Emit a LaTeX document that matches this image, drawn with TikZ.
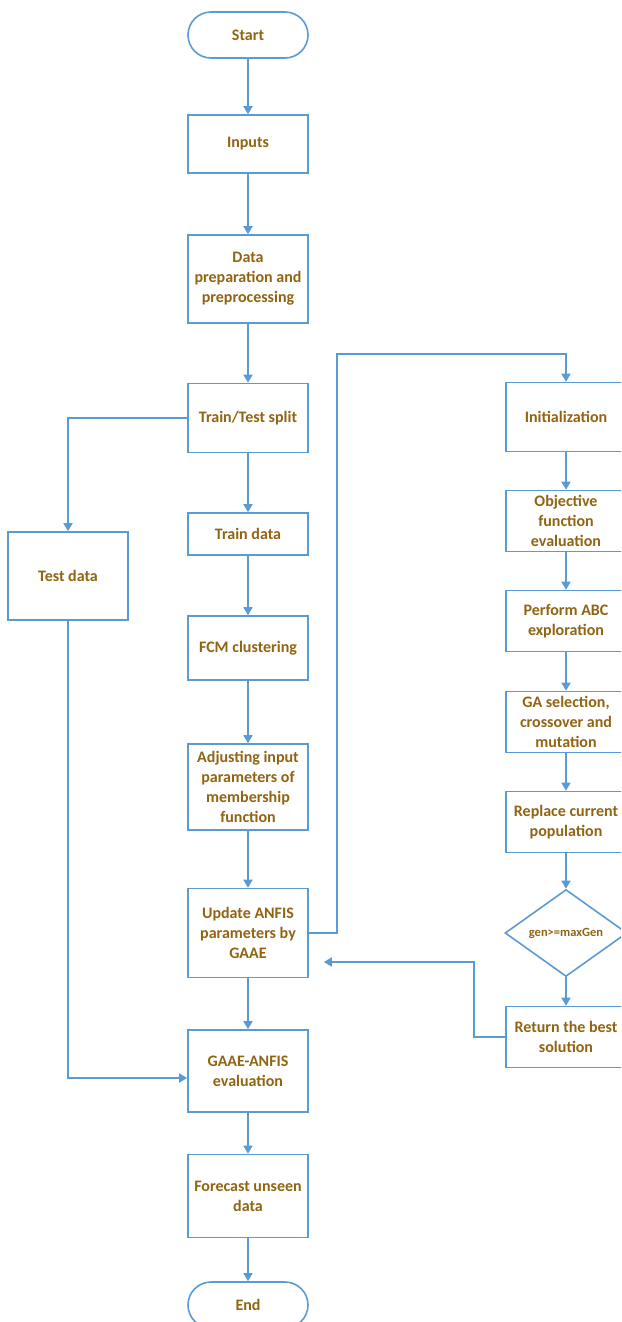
\documentclass[tikz,border=0pt]{standalone}
\usepackage{fontspec}
\setmainfont{Carlito}
\usetikzlibrary{shapes.geometric, arrows.meta}
\definecolor{flowblue}{RGB}{91, 155, 213}
\definecolor{labelgold}{RGB}{145, 100, 18}

\begin{document}
\begin{tikzpicture}[x=1pt, y=-1pt,
  box/.style={draw=flowblue, line width=1.6pt, fill=white, minimum width=120pt, align=center,
    inner sep=2pt, text=labelgold, font=\fontsize{16}{20}\selectfont\bfseries},
  term/.style={box, rounded corners=23pt, minimum height=46pt},
  decision/.style={draw=flowblue, line width=1.6pt, fill=white, diamond, inner sep=0pt, aspect=1.4,
    minimum width=122pt, minimum height=87pt, text=labelgold, font=\fontsize{12.5}{15}\selectfont\bfseries},
  flow/.style={draw=flowblue, line width=1.6pt, -{Triangle[length=8pt, width=9pt]}},
  link/.style={draw=flowblue, line width=1.6pt}]
  \clip (0, 0) rectangle (621, 1322);

  % ===== MAIN COLUMN =====
  \node[term] (start) at (248, 35) {Start};
  \node[box, minimum height=58pt] (inputs) at (248, 144) {Inputs};
  \node[box, minimum height=88pt] (prep) at (248, 279) {Data\\preparation and\\preprocessing};
  \node[box, minimum height=69pt] (split) at (248, 418) {Train/Test split};
  \node[box, minimum height=42pt] (train) at (248, 534) {Train data};
  \node[box, minimum height=64pt] (fcm) at (248, 648) {FCM clustering};
  \node[box, minimum height=86pt] (adjust) at (248, 787) {Adjusting input\\parameters of\\membership\\function};
  \node[box, minimum height=89pt] (update) at (248, 933) {Update ANFIS\\parameters by\\GAAE};
  \node[box, minimum height=82pt] (eval) at (248, 1071) {GAAE-ANFIS\\evaluation};
  \node[box, minimum height=83pt] (forecast) at (248, 1196) {Forecast unseen\\data};
  \node[term] (end) at (248, 1305) {End};

  % ===== TEST BRANCH =====
  \node[box, minimum height=88pt] (test) at (68, 576) {Test data};

  % ===== GAAE LOOP (right) =====
  \node[box, minimum height=69pt] (init) at (566, 417) {Initialization};
  \node[box, minimum height=61pt] (objective) at (566, 521) {Objective\\function\\evaluation};
  \node[box, minimum height=61pt] (abc) at (566, 621) {Perform ABC\\exploration};
  \node[box, minimum height=61pt] (ga) at (566, 722) {GA selection,\\crossover and\\mutation};
  \node[box, minimum height=61pt] (replace) at (566, 822) {Replace current\\population};
  \node[decision] (stop) at (566, 933) {gen>=maxGen};
  \node[box, minimum height=61pt] (best) at (566, 1037) {Return the best\\solution};

  % main chain
  \draw[flow] (start) -- (inputs);
  \draw[flow] (inputs) -- (prep);
  \draw[flow] (prep) -- (split);
  \draw[flow] (split) -- (train);
  \draw[flow] (train) -- (fcm);
  \draw[flow] (fcm) -- (adjust);
  \draw[flow] (adjust) -- (update);
  \draw[flow] (update) -- (eval);
  \draw[flow] (eval) -- (forecast);
  \draw[flow] (forecast) -- (end);

  % test data goes straight to evaluation
  \draw[flow] (split.west) -| (test.north);
  \coordinate (evalin) at ([shift={(0, 7)}]eval.west);
  \draw[flow] (test.south) |- (evalin);

  % optimiser loop
  \draw[flow] (update.east) -- ++(28, 0) |- (566, 354) -- (init.north);
  \draw[flow] (init) -- (objective);
  \draw[flow] (objective) -- (abc);
  \draw[flow] (abc) -- (ga);
  \draw[flow] (ga) -- (replace);
  \draw[flow] (replace) -- (stop);
  \draw[flow] (stop) -- (best);
  \coordinate (back) at ([shift={(15, 29)}]update.east);
  \draw[flow] (best.west) -- ++(-31, 0) |- (back);
\end{tikzpicture}
\end{document}
